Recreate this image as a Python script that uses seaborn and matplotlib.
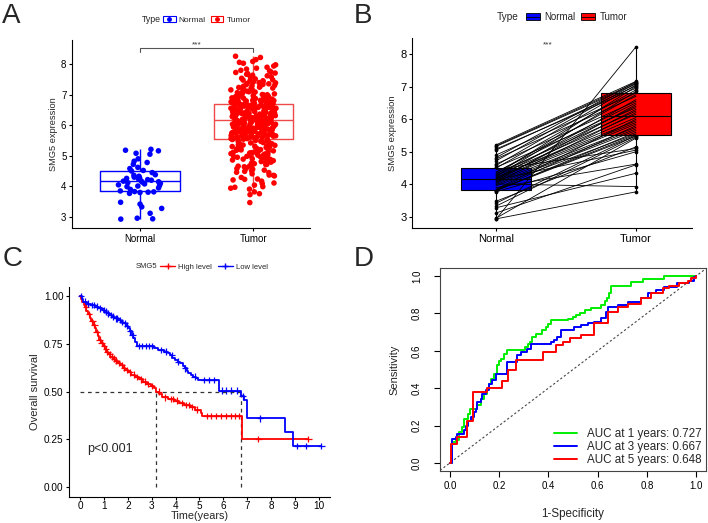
import numpy as np
import pandas as pd
import seaborn as sns
import matplotlib.pyplot as plt
from matplotlib.patches import Patch
from matplotlib.lines import Line2D

sns.set_style('white')
plt.rcParams['font.family'] = ['Liberation Sans', 'DejaVu Sans']

W, H = 708, 523

# ---------------- data ----------------
# 50 normal samples, in the same order as their paired tumours
normal_expr = [2.93, 2.94, 2.96, 3.12, 3.28, 3.33, 3.42, 3.48, 3.77, 3.80,
               3.81, 3.82, 3.83, 3.85, 3.90, 3.95, 3.99, 4.01, 4.03, 4.05,
               4.08, 4.10, 4.12, 4.14, 4.15, 4.17, 4.18, 4.20, 4.22, 4.24,
               4.26, 4.28, 4.30, 4.33, 4.36, 4.38, 4.45, 4.50, 4.52, 4.58,
               4.62, 4.72, 4.78, 4.82, 4.90, 5.05, 5.08, 5.16, 5.18, 5.21]
paired_tumor = [8.22, 3.77, 5.42, 4.60, 4.34, 5.45, 5.50, 5.15, 5.00, 5.60,
                5.48, 5.52, 5.80, 6.00, 4.62, 5.55, 5.65, 3.93, 5.70, 6.20,
                5.75, 6.45, 5.85, 5.05, 6.30, 5.90, 6.60, 6.05, 5.95, 6.85,
                6.15, 6.40, 7.00, 6.25, 6.75, 6.50, 5.10, 6.90, 6.35, 7.05,
                6.55, 7.10, 6.70, 7.15, 6.80, 7.02, 6.95, 7.08, 7.12, 7.16]

# all 370 tumour samples (panel A)
tumor_expr = [
    3.47, 3.73, 3.76, 3.82, 3.91, 3.94, 3.97, 3.99,
    4.04, 4.09, 4.11, 4.17, 4.21, 4.23, 4.24, 4.29, 4.34, 4.36, 4.37, 4.41, 4.45, 4.46, 4.49,
    4.51, 4.53, 4.56, 4.58, 4.59, 4.61, 4.64, 4.66, 4.66, 4.69, 4.71, 4.72, 4.74, 4.76, 4.78,
    4.79, 4.81, 4.83, 4.84, 4.86, 4.88, 4.89, 4.90, 4.92, 4.93, 4.95, 4.96, 4.97, 4.98, 4.99,
    5.01, 5.02, 5.03, 5.05, 5.06, 5.07, 5.09, 5.10, 5.11, 5.12, 5.14, 5.15, 5.16, 5.18, 5.19,
    5.20, 5.22, 5.23, 5.24, 5.26, 5.27, 5.28, 5.30, 5.31, 5.32, 5.34, 5.35, 5.36, 5.38, 5.39,
    5.40, 5.42, 5.43, 5.44, 5.46, 5.47, 5.49, 5.50, 5.52,
    5.53, 5.54, 5.54, 5.55, 5.56, 5.56, 5.57, 5.58, 5.59, 5.59,
    5.60, 5.61, 5.62, 5.62, 5.63, 5.64, 5.65, 5.65, 5.66, 5.67,
    5.68, 5.68, 5.69, 5.70, 5.71, 5.71, 5.72, 5.72, 5.73, 5.74,
    5.74, 5.75, 5.76, 5.77, 5.77, 5.78, 5.79, 5.80, 5.80, 5.81,
    5.81, 5.82, 5.83, 5.83, 5.84, 5.85, 5.86, 5.86, 5.87, 5.87,
    5.88, 5.89, 5.89, 5.90, 5.91, 5.92, 5.92, 5.93, 5.93, 5.94,
    5.95, 5.95, 5.96, 5.97, 5.98, 5.98, 5.99, 5.99, 6.00, 6.01,
    6.01, 6.02, 6.03, 6.03, 6.04, 6.04, 6.05, 6.06, 6.07, 6.07,
    6.08, 6.09, 6.09, 6.10, 6.10, 6.11, 6.12, 6.13, 6.13, 6.14,
    6.14, 6.15, 6.15,
    6.17, 6.18, 6.18, 6.19, 6.19, 6.20, 6.21, 6.21, 6.22, 6.22,
    6.23, 6.23, 6.24, 6.25, 6.25, 6.26, 6.26, 6.27, 6.27, 6.28,
    6.28, 6.29, 6.30, 6.30, 6.31, 6.31, 6.32, 6.32, 6.33, 6.34,
    6.34, 6.35, 6.35, 6.36, 6.36, 6.37, 6.37, 6.38, 6.39, 6.39,
    6.40, 6.40, 6.41, 6.41, 6.42, 6.42, 6.43, 6.44, 6.44, 6.45,
    6.45, 6.46, 6.46, 6.47, 6.47, 6.48, 6.49, 6.49, 6.50, 6.50,
    6.51, 6.51, 6.52, 6.52, 6.53, 6.54, 6.54, 6.55, 6.55, 6.56,
    6.56, 6.57, 6.57, 6.58, 6.58, 6.59, 6.60, 6.60, 6.61, 6.61,
    6.62, 6.62, 6.63, 6.63, 6.64, 6.65, 6.65, 6.66, 6.66, 6.67,
    6.67, 6.68, 6.68,
    6.70, 6.71, 6.72, 6.72, 6.73, 6.74, 6.75, 6.76, 6.76, 6.77, 6.78, 6.79, 6.80, 6.81, 6.81,
    6.82, 6.83, 6.84, 6.85, 6.86, 6.87, 6.88, 6.88, 6.89, 6.90, 6.91, 6.92, 6.93, 6.94, 6.95,
    6.95, 6.96, 6.97, 6.98, 6.99,
    7.00, 7.02, 7.03, 7.05, 7.06, 7.08, 7.09, 7.11, 7.12, 7.14, 7.15, 7.17, 7.18, 7.20, 7.21,
    7.23, 7.24, 7.26, 7.27, 7.29, 7.30, 7.32, 7.33, 7.35, 7.36, 7.38, 7.39, 7.41, 7.42, 7.44,
    7.45, 7.47, 7.48,
    7.51, 7.53, 7.56, 7.58, 7.61, 7.63, 7.66, 7.68, 7.70, 7.72, 7.74, 7.77, 7.79, 7.83, 7.86,
    7.89, 7.93, 7.97,
    8.02, 8.05, 8.08, 8.14, 8.21, 8.25]

# Kaplan-Meier curves
km_high_time = [0.00, 0.05, 0.10, 0.15, 0.20, 0.27, 0.33, 0.40, 0.47, 0.55, 0.62, 0.68,
                0.75, 0.80, 0.87, 0.95, 1.03, 1.10, 1.18, 1.27, 1.38, 1.48, 1.58, 1.68,
                1.78, 1.88, 2.00, 2.15, 2.30, 2.45, 2.62, 2.80, 2.95, 3.10, 3.20, 3.32,
                3.45, 3.70, 3.95, 4.15, 4.35, 4.60, 4.80, 5.05, 5.12, 6.78, 9.55]
km_high_surv = [1.000, 0.985, 0.970, 0.955, 0.940, 0.920, 0.905, 0.885, 0.868, 0.850, 0.830, 0.812,
                0.790, 0.772, 0.755, 0.738, 0.722, 0.708, 0.695, 0.683, 0.672, 0.662, 0.650, 0.638,
                0.625, 0.613, 0.600, 0.588, 0.575, 0.563, 0.552, 0.540, 0.528, 0.516, 0.500, 0.485,
                0.470, 0.462, 0.452, 0.441, 0.430, 0.418, 0.405, 0.390, 0.373, 0.251, 0.251]
km_low_time = [0.00, 0.08, 0.14, 0.30, 0.45, 0.63, 0.78, 0.91, 1.02, 1.12, 1.22, 1.32,
               1.45, 1.60, 1.72, 1.81, 1.92, 2.02, 2.08, 2.16, 2.23, 2.30, 2.37, 3.10,
               3.28, 3.50, 3.70, 3.77, 3.87, 3.97, 4.08, 4.18, 4.30, 4.39, 4.47, 4.53,
               4.65, 4.74, 4.85, 4.95, 5.83, 6.75, 6.88, 6.97, 8.58, 8.93, 10.10]
km_low_surv = [1.000, 0.985, 0.970, 0.960, 0.952, 0.944, 0.935, 0.927, 0.918, 0.909, 0.900, 0.892,
               0.883, 0.874, 0.865, 0.857, 0.845, 0.831, 0.815, 0.796, 0.780, 0.761, 0.738, 0.727,
               0.717, 0.709, 0.700, 0.691, 0.678, 0.665, 0.656, 0.647, 0.634, 0.621, 0.608, 0.595,
               0.586, 0.578, 0.569, 0.560, 0.505, 0.475, 0.455, 0.360, 0.290, 0.216, 0.216]
cens_high_time = [0.25, 0.38, 0.52, 0.60, 0.70, 0.82, 0.90, 1.00, 1.08, 1.15, 1.25, 1.35, 1.42,
                  1.52, 1.62, 1.75, 1.85, 1.95, 2.10, 2.25, 2.40, 2.55, 2.70, 2.85, 3.00, 3.30,
                  3.55, 3.80, 3.90, 4.05, 4.25, 4.45, 4.55, 4.70, 4.90, 5.30, 5.50, 5.70, 5.90,
                  6.10, 6.30, 6.50, 6.65, 7.46, 9.55]
cens_low_time = [0.05, 0.20, 0.35, 0.50, 0.58, 0.70, 0.85, 1.00, 1.08, 1.18, 1.28, 1.40, 1.50,
                 1.55, 1.68, 1.76, 1.87, 1.97, 2.10, 2.20, 2.45, 2.60, 2.75, 2.90, 3.00, 3.40,
                 3.60, 3.85, 4.10, 4.40, 4.80, 5.20, 5.40, 5.60, 5.95, 6.10, 6.30, 6.55, 6.80,
                 7.53, 9.10, 9.45, 10.10]

# time-dependent ROC curves
roc1_fpr = [0, 0.007, 0.024, 0.038, 0.049, 0.058, 0.072, 0.080, 0.112, 0.125, 0.139, 0.152,
            0.160, 0.166, 0.179, 0.190, 0.200, 0.206, 0.220, 0.231, 0.304, 0.317, 0.325, 0.335,
            0.348, 0.375, 0.389, 0.400, 0.409, 0.479, 0.500, 0.513, 0.530, 0.547, 0.574, 0.614,
            0.630, 0.640, 0.648, 0.655, 0.735, 0.783, 0.870, 1.0]
roc1_tpr = [0, 0.112, 0.125, 0.166, 0.190, 0.237, 0.264, 0.290, 0.308, 0.340, 0.367, 0.394,
            0.420, 0.450, 0.478, 0.522, 0.545, 0.558, 0.585, 0.602, 0.620, 0.635, 0.647, 0.674,
            0.692, 0.709, 0.727, 0.745, 0.763, 0.772, 0.780, 0.790, 0.800, 0.818, 0.831, 0.845,
            0.865, 0.880, 0.910, 0.948, 0.966, 0.984, 1.0, 1.0]
roc3_fpr = [0, 0.010, 0.024, 0.031, 0.058, 0.065, 0.072, 0.085, 0.099, 0.105, 0.112, 0.125,
            0.132, 0.146, 0.159, 0.173, 0.186, 0.233, 0.274, 0.287, 0.314, 0.328, 0.409, 0.422,
            0.436, 0.452, 0.506, 0.533, 0.560, 0.587, 0.614, 0.634, 0.641, 0.682, 0.722, 0.776,
            0.803, 0.837, 0.870, 0.924, 0.972, 0.992, 1.0]
roc3_tpr = [0, 0.130, 0.139, 0.157, 0.175, 0.200, 0.222, 0.246, 0.273, 0.290, 0.326, 0.344,
            0.371, 0.389, 0.424, 0.442, 0.478, 0.540, 0.576, 0.593, 0.608, 0.638, 0.647, 0.656,
            0.674, 0.711, 0.729, 0.738, 0.747, 0.756, 0.774, 0.809, 0.836, 0.845, 0.863, 0.880,
            0.907, 0.925, 0.943, 0.961, 0.973, 0.996, 1.0]
roc5_fpr = [0, 0.005, 0.031, 0.068, 0.094, 0.152, 0.210, 0.238, 0.270, 0.378, 0.432, 0.459,
            0.486, 0.533, 0.587, 0.641, 0.682, 0.722, 0.776, 0.816, 0.864, 0.891, 0.931, 0.965,
            0.978, 1.0]
roc5_tpr = [0, 0.103, 0.139, 0.222, 0.380, 0.401, 0.440, 0.495, 0.550, 0.592, 0.631, 0.645,
            0.670, 0.684, 0.747, 0.809, 0.836, 0.848, 0.880, 0.907, 0.934, 0.948, 0.961, 0.973,
            0.987, 1.0]
auc_labels = ['AUC at 1 years: 0.727', 'AUC at 3 years: 0.667', 'AUC at 5 years: 0.648']

# ---------------- figure ----------------
fig = plt.figure(figsize=(W / 100, H / 100), dpi=100)


def add_ax(l, t, r, b):
    return fig.add_axes([l / W, 1 - b / H, (r - l) / W, (b - t) / H])


def gg_axes(ax, size=7):
    sns.despine(ax=ax)
    for s in ['left', 'bottom']:
        ax.spines[s].set_linewidth(0.8)
        ax.spines[s].set_color('black')
    ax.tick_params(left=True, bottom=True, direction='out', length=2.5, width=0.8,
                   pad=1.5, labelsize=size, colors='black')


blue, red = '#0000FF', '#FF0000'

# ---- A: box + jitter
df_a = pd.DataFrame({'group': ['Normal'] * len(normal_expr) + ['Tumor'] * len(tumor_expr),
                     'expr': normal_expr + tumor_expr})
df_a['pos'] = df_a['group'].map({'Normal': 0, 'Tumor': 1})
ax_a = add_ax(72, 40, 310, 228)
sns.boxplot(data=df_a, x='pos', y='expr', hue='group', native_scale=True, dodge=False,
            fill=False, palette={'Normal': blue, 'Tumor': '#F04848'}, saturation=1,
            width=0.7, showfliers=False, showcaps=False, linewidth=1.0, legend=False, ax=ax_a)
np.random.seed(7)
sns.stripplot(data=df_a, x='pos', y='expr', hue='group', native_scale=True, dodge=False,
              jitter=0.2, palette={'Normal': blue, 'Tumor': red}, size=4.0, linewidth=0,
              legend=False, ax=ax_a)
top = max(normal_expr + tumor_expr) + 0.27
ax_a.plot([0, 0, 1, 1], [top - 0.13, top, top, top - 0.13], color='#555555', lw=0.8, clip_on=False)
ax_a.text(0.5, top + 0.04, '***', ha='center', va='baseline', fontsize=6, color='#333333')
ax_a.set_xlim(-0.6, 1.5)
ax_a.set_ylim(2.64, 8.78)
ax_a.set_xticks([0, 1], ['Normal', 'Tumor'])
ax_a.set_yticks(range(3, 9))
ax_a.set_xlabel('')
ax_a.set_ylabel('SMG5 expression', fontsize=6.7, labelpad=2)
gg_axes(ax_a, 7)

fig.text(142 / W, 1 - 20 / H, 'Type', fontsize=6.3, va='center', ha='left')
h_a = [(Patch(facecolor='white', edgecolor=blue, lw=0.8),
        Line2D([], [], marker='o', color=blue, ls='', ms=2.5)),
       (Patch(facecolor='white', edgecolor=red, lw=0.8),
        Line2D([], [], marker='o', color=red, ls='', ms=2.5))]
fig.legend(h_a, ['Normal', 'Tumor'], loc='center left', bbox_to_anchor=(163 / W, 1 - 20 / H),
           ncol=2, frameon=False, fontsize=6, handlelength=1.5, handletextpad=0.4,
           columnspacing=0.6, borderpad=0, borderaxespad=0)

# ---- B: paired plot
n = len(normal_expr)
df_b = pd.DataFrame({'pair': list(range(n)) * 2,
                     'group': ['Normal'] * n + ['Tumor'] * n,
                     'expr': normal_expr + paired_tumor})
df_b['pos'] = df_b['group'].map({'Normal': 0, 'Tumor': 1})
ax_b = add_ax(412, 38, 692, 228)
sns.boxplot(data=df_b, x='pos', y='expr', hue='group', native_scale=True, dodge=False,
            palette={'Normal': blue, 'Tumor': red}, saturation=1, width=0.5,
            linecolor='black', linewidth=0.8, showfliers=False, showcaps=False,
            legend=False, ax=ax_b)
sns.lineplot(data=df_b, x='pos', y='expr', units='pair', estimator=None, color='black',
             lw=0.6, legend=False, ax=ax_b)
sns.scatterplot(data=df_b, x='pos', y='expr', color='black', s=7, linewidth=0, ax=ax_b)
ax_b.text(0.37, 8.22, '***', ha='center', va='baseline', fontsize=6, color='#333333')
ax_b.set_xlim(-0.6, 1.4)
ax_b.set_ylim(2.66, 8.49)
ax_b.set_xticks([0, 1], ['Normal', 'Tumor'])
ax_b.set_yticks(range(3, 9))
ax_b.set_xlabel('')
ax_b.set_ylabel('SMG5 expression', fontsize=6.8, labelpad=2)
gg_axes(ax_b, 8)

fig.text(497 / W, 1 - 17 / H, 'Type', fontsize=7.3, va='center', ha='left')
h_b = [(Patch(facecolor=blue, edgecolor='black', lw=0.6), Line2D([], [], color='black', lw=0.6)),
       (Patch(facecolor=red, edgecolor='black', lw=0.6), Line2D([], [], color='black', lw=0.6))]
fig.legend(h_b, ['Normal', 'Tumor'], loc='center left', bbox_to_anchor=(526 / W, 1 - 17 / H),
           ncol=2, frameon=False, fontsize=7, handlelength=1.4, handletextpad=0.5,
           columnspacing=0.6, borderpad=0, borderaxespad=0)

# ---- C: Kaplan-Meier
def surv_at(times, survs, t):
    i = np.searchsorted(times, t, side='right') - 1
    return survs[i]


def median_time(times, survs):
    for t, s in zip(times, survs):
        if s <= 0.5:
            return t


df_km = pd.concat([
    pd.DataFrame({'time': km_high_time, 'surv': km_high_surv, 'group': 'High level'}),
    pd.DataFrame({'time': km_low_time, 'surv': km_low_surv, 'group': 'Low level'})])
df_cens = pd.concat([
    pd.DataFrame({'time': cens_high_time,
                  'surv': [surv_at(km_high_time, km_high_surv, t) for t in cens_high_time],
                  'group': 'High level'}),
    pd.DataFrame({'time': cens_low_time,
                  'surv': [surv_at(km_low_time, km_low_surv, t) for t in cens_low_time],
                  'group': 'Low level'})])
km_pal = {'High level': red, 'Low level': blue}

ax_c = add_ax(69, 287, 330, 497)
meds = [median_time(km_high_time, km_high_surv), median_time(km_low_time, km_low_surv)]
ax_c.hlines(0.5, 0, max(meds), colors='#333333', linestyles=(0, (3, 3)), lw=0.9)
ax_c.vlines(meds, 0, 0.5, colors='#333333', linestyles=(0, (3, 3)), lw=0.9)
sns.lineplot(data=df_km, x='time', y='surv', hue='group', palette=km_pal, estimator=None,
             sort=False, drawstyle='steps-post', lw=1.3, legend=False, ax=ax_c)
sns.scatterplot(data=df_cens, x='time', y='surv', hue='group', palette=km_pal, marker='+',
                s=22, linewidth=0.9, legend=False, ax=ax_c)
ax_c.text(0.28, 0.2, 'p<0.001', fontsize=9, va='center', ha='left')
ax_c.set_xlim(-0.46, 10.46)
ax_c.set_ylim(-0.052, 1.047)
ax_c.set_xticks(range(11))
ax_c.set_yticks([0, 0.25, 0.5, 0.75, 1.0], ['0.00', '0.25', '0.50', '0.75', '1.00'])
ax_c.set_ylabel('Overall survival', fontsize=8, labelpad=3)
gg_axes(ax_c, 7.2)
ax_c.tick_params(axis='x', pad=0.5)
ax_c.set_xlabel('Time(years)', fontsize=7.8, labelpad=0)

fig.text(136 / W, 1 - 267 / H, 'SMG5', fontsize=5.5, va='center', ha='left')
h_c = [Line2D([], [], color=red, marker='+', ms=4, lw=1),
       Line2D([], [], color=blue, marker='+', ms=4, lw=1)]
fig.legend(h_c, ['High level', 'Low level'], loc='center left', bbox_to_anchor=(160 / W, 1 - 267 / H),
           ncol=2, frameon=False, fontsize=5.5, handlelength=2.0, handletextpad=0.4,
           columnspacing=0.7, borderpad=0, borderaxespad=0)

# ---- D: ROC
df_roc = pd.concat([
    pd.DataFrame({'fpr': roc1_fpr, 'tpr': roc1_tpr, 'curve': auc_labels[0]}),
    pd.DataFrame({'fpr': roc3_fpr, 'tpr': roc3_tpr, 'curve': auc_labels[1]}),
    pd.DataFrame({'fpr': roc5_fpr, 'tpr': roc5_tpr, 'curve': auc_labels[2]})])
roc_cols = ['#00EE00', blue, red]
ax_d = add_ax(440, 268, 706, 471)
ax_d.axline((0, 0), (1, 1), color='#444444', lw=0.8, ls=(0, (2, 2)))
sns.lineplot(data=df_roc, x='fpr', y='tpr', hue='curve', palette=roc_cols, estimator=None,
             sort=False, drawstyle='steps-post', lw=1.4, legend=False, ax=ax_d)
ax_d.legend([Line2D([], [], color=c, lw=1.4) for c in roc_cols], auc_labels,
            loc='lower right', frameon=False, fontsize=8.4, handlelength=2.0,
            handletextpad=0.8, labelspacing=0.1, borderaxespad=0.2, borderpad=0.2)
ax_d.set_xlim(-0.04, 1.04)
ax_d.set_ylim(-0.043, 1.043)
ticks = [0, 0.2, 0.4, 0.6, 0.8, 1.0]
ax_d.set_xticks(ticks, ['0.0', '0.2', '0.4', '0.6', '0.8', '1.0'])
ax_d.set_yticks(ticks, ['0.0', '0.2', '0.4', '0.6', '0.8', '1.0'], rotation=90, va='center')
for s in ax_d.spines.values():
    s.set_linewidth(0.8)
    s.set_color('#444444')
ax_d.tick_params(left=True, bottom=True, direction='out', length=4, width=0.8,
                 labelsize=7, colors='black')
ax_d.tick_params(axis='y', pad=9)
ax_d.set_xlabel('1-Specificity', fontsize=8.4, labelpad=12)
ax_d.set_ylabel('Sensitivity', fontsize=8, labelpad=9)

# panel letters
for x, y, letter in [(2, 23, 'A'), (354, 23, 'B'), (3, 266, 'C'), (354, 266, 'D')]:
    fig.text(x / W, 1 - y / H, letter, fontsize=20, va='baseline', ha='left')

fig.savefig('out.png', dpi=100)
